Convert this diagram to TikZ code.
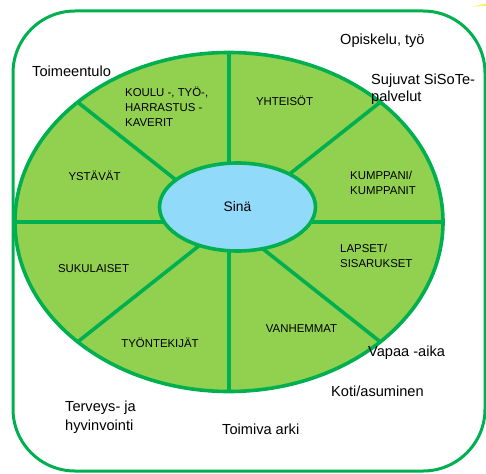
\documentclass[tikz,border=0pt]{standalone}
\usepackage{fontspec}
\setmainfont{Liberation Sans}
\usetikzlibrary{calc,shapes.geometric}
\definecolor{ringline}{RGB}{0,176,80}
\definecolor{ringfill}{RGB}{146,208,80}
\definecolor{centerfill}{RGB}{146,218,250}
\tikzset{
  ringedge/.style={draw=ringline, line width=3.6pt},
  outerlabel/.style={font=\fontsize{14.6}{17}\selectfont, anchor=west, align=left, inner sep=0pt},
  seglabel/.style={font=\fontsize{11.4}{15}\selectfont, align=left, inner sep=0pt},
}
\begin{document}
\begin{tikzpicture}[x=1pt,y=-1pt]
\useasboundingbox (0,0) rectangle (486,473);
% outer frame
\draw[draw=ringline, line width=3pt, rounded corners=62pt] (13,11) rectangle (485,471);
% small yellow fragment top right
\fill[yellow!90!orange!60] (472,6.5) -- (486,3.5) -- (486,6) -- cycle;
% big ring
\coordinate (C) at (229,222);
\fill[ringfill] (C) ellipse [x radius=214pt, y radius=169.5pt];
\foreach \a in {0,45,...,315}{
  \coordinate (p\a) at ($(C)+({214*cos(\a)},{169.5*sin(\a)})$);
}
\foreach \a in {0,45,...,315}{
  \draw[ringedge] (C) -- (p\a);
}
\draw[ringedge] (C) ellipse [x radius=214pt, y radius=169.5pt];
% centre
\node[ringedge, fill=centerfill, ellipse, minimum width=156pt, minimum height=88pt, inner sep=0pt,
  font=\fontsize{13.8}{16}\selectfont] (sina) at (237.5,207) {Sinä};
% segment labels
\node[seglabel, anchor=west] (koulu) at (125,107) {KOULU -, TYÖ-,\\HARRASTUS -\\KAVERIT};
\node[seglabel] (ystavat) at (94.5,176) {YSTÄVÄT};
\node[seglabel] (yhteisot) at (284.5,101) {YHTEISÖT};
\node[seglabel, anchor=west] (kumppani) at (350,183) {KUMPPANI/\\KUMPPANIT};
\node[seglabel, anchor=west] (lapset) at (340,255.5) {LAPSET/\\SISARUKSET};
\node[seglabel] (vanhemmat) at (301.5,329) {VANHEMMAT};
\node[seglabel] (tyontekijat) at (160,343) {TYÖNTEKIJÄT};
\node[seglabel] (sukulaiset) at (93.5,269) {SUKULAISET};
% outer labels
\node[outerlabel] (toimeentulo) at (32,71) {Toimeentulo};
\node[outerlabel] (opiskelu) at (340,41) {Opiskelu, työ};
\node[outerlabel] (sisote) at (371,89.5) {Sujuvat SiSoTe-\\palvelut};
\node[outerlabel] (vapaa) at (368,353) {Vapaa -aika};
\node[outerlabel] (koti) at (331,391) {Koti/asuminen};
\node[outerlabel] (arki) at (222,429) {Toimiva arki};
\node[outerlabel, font=\fontsize{14.6}{19}\selectfont] (terveys) at (65,417.5) {Terveys- ja\\hyvinvointi};
\end{tikzpicture}
\end{document}
